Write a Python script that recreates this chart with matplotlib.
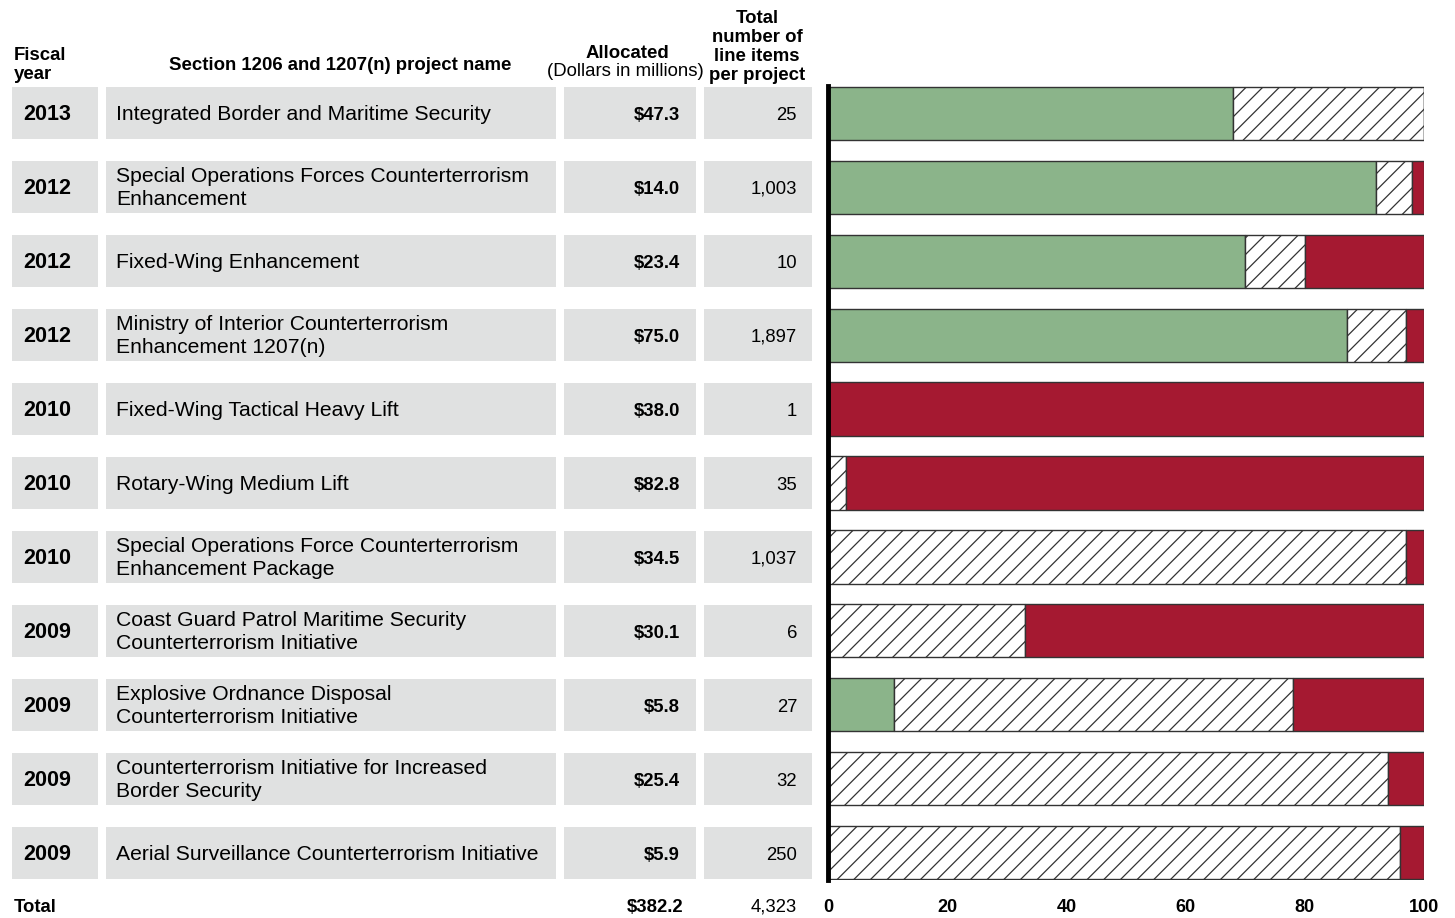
import matplotlib
matplotlib.use("Agg")
import matplotlib.pyplot as plt
from matplotlib.patches import Rectangle
import numpy as np

plt.rcParams['font.family'] = ['Liberation Sans', 'DejaVu Sans']
plt.rcParams['hatch.linewidth'] = 0.9

# table data
years = ["2013", "2012", "2012", "2012", "2010", "2010", "2010", "2009", "2009", "2009", "2009"]
names = ["Integrated Border and Maritime Security",
         "Special Operations Forces Counterterrorism\nEnhancement",
         "Fixed-Wing Enhancement",
         "Ministry of Interior Counterterrorism\nEnhancement 1207(n)",
         "Fixed-Wing Tactical Heavy Lift",
         "Rotary-Wing Medium Lift",
         "Special Operations Force Counterterrorism\nEnhancement Package",
         "Coast Guard Patrol Maritime Security\nCounterterrorism Initiative",
         "Explosive Ordnance Disposal\nCounterterrorism Initiative",
         "Counterterrorism Initiative for Increased\nBorder Security",
         "Aerial Surveillance Counterterrorism Initiative"]
allocated = ["$47.3", "$14.0", "$23.4", "$75.0", "$38.0", "$82.8", "$34.5", "$30.1", "$5.8", "$25.4", "$5.9"]
line_items = ["25", "1,003", "10", "1,897", "1", "35", "1,037", "6", "27", "32", "250"]
total_alloc = "$382.2"
total_items = "4,323"

# percent shares of each bar (green / hatched / red)
green = [68, 92, 70, 87, 0, 0, 0, 0, 11, 0, 0]
hatched = [32, 6, 10, 10, 0, 3, 97, 33, 67, 94, 96]
red = [0, 2, 20, 3, 100, 97, 3, 67, 22, 6, 4]

W, H = 1455, 918
fig = plt.figure(figsize=(W / 100, H / 100), dpi=100)

# overlay axis in pixel coordinates for the table part
tab = fig.add_axes([0, 0, 1, 1])
tab.set_xlim(0, W)
tab.set_ylim(H, 0)
tab.axis('off')

gray = '#e0e1e1'
cols = [(12, 98), (106, 556), (564, 696), (704, 812)]
pitch = 74
y0 = 113

hdr = dict(fontsize=13.4, fontweight='bold', color='black')
tab.text(14, 65, "Fiscal\nyear", ha='left', va='center', linespacing=1.15, **hdr)
tab.text(340, 66, "Section 1206 and 1207(n) project name", ha='center', va='center', **hdr)
tab.text(627, 53, "Allocated", ha='center', va='center', **hdr)
tab.text(625, 72, "(Dollars in millions)", ha='center', va='center', fontsize=13.4)
tab.text(757, 47, "Total\nnumber of\nline items\nper project", ha='center', va='center',
         linespacing=1.15, **hdr)

for i in range(len(years)):
    yc = y0 + i * pitch
    for (xa, xb) in cols:
        tab.add_patch(Rectangle((xa, yc - 26), xb - xa, 52, facecolor=gray, edgecolor='none'))
    tab.text(23, yc + 1, years[i], ha='left', va='center', fontsize=15.5, fontweight='bold')
    tab.text(116, yc + 1, names[i], ha='left', va='center', fontsize=15.2, linespacing=1.3)
    tab.text(680, yc + 2.5, allocated[i], ha='right', va='center', fontsize=13.3, fontweight='bold')
    tab.text(797, yc + 2.5, line_items[i], ha='right', va='center', fontsize=13.3)

tab.text(14, 908, "Total", ha='left', va='center', fontsize=13.3, fontweight='bold')
tab.text(683, 907, total_alloc, ha='right', va='center', fontsize=13.3, fontweight='bold')
tab.text(797, 907, total_items, ha='right', va='center', fontsize=13.3)

# bar chart part
x_left, x_right = 828, 1424
y_top, y_bot = 86, 880
ax = fig.add_axes([x_left / W, 1 - y_bot / H, (x_right - x_left) / W, (y_bot - y_top) / H])
ax.patch.set_alpha(0)

rows = np.arange(len(years))
g = np.array(green)
h = np.array(hatched)
r = np.array(red)
bh = 0.72
ec = '#333333'
ax.barh(rows, g, height=bh, color='#8bb48a', edgecolor=ec, linewidth=1)
ax.barh(rows, h, left=g, height=bh, color='white', edgecolor=ec, linewidth=1, hatch='//')
ax.barh(rows, r, left=g + h, height=bh, color='#a51931', edgecolor=ec, linewidth=1)

ax.set_xlim(0, 100)
ax.set_ylim(len(years) - 1 + 0.37, -0.37)
ax.set_yticks([])
ax.set_xticks([0, 20, 40, 60, 80, 100])
ax.tick_params(axis='x', length=0, pad=14, labelsize=13)
for lab in ax.get_xticklabels():
    lab.set_fontweight('bold')
for s in ['top', 'right', 'bottom']:
    ax.spines[s].set_visible(False)
ax.spines['left'].set_linewidth(3.5)
ax.spines['left'].set_color('black')

fig.savefig("out.png", dpi=100)
